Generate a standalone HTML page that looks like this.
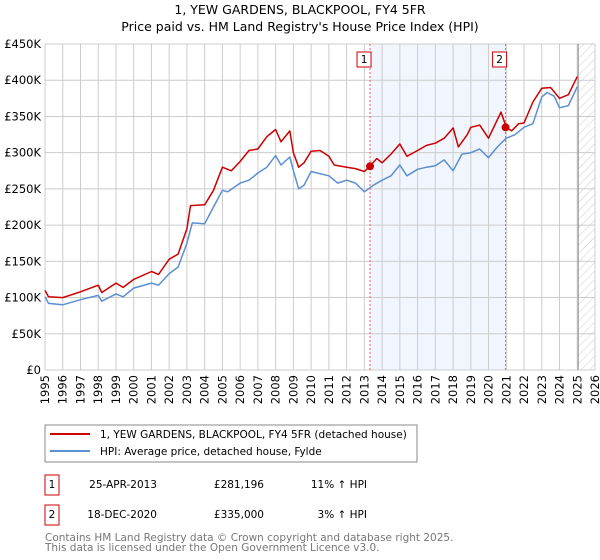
<!DOCTYPE html>
<html><head><meta charset="utf-8"><style>
body{margin:0;background:#fff;font-family:"Liberation Sans","DejaVu Sans",sans-serif}
svg{display:block}
</style></head><body>
<svg width="600" height="560" font-family="DejaVu Sans, Liberation Sans, sans-serif">
<text x="300" y="14" font-size="12.5" text-anchor="middle">1, YEW GARDENS, BLACKPOOL, FY4 5FR</text>
<text x="300" y="31" font-size="12.5" text-anchor="middle">Price paid vs. HM Land Registry's House Price Index (HPI)</text>
<defs><pattern id="hatch" width="6" height="6" patternUnits="userSpaceOnUse" patternTransform="rotate(45)"><line x1="0" y1="0" x2="0" y2="6" stroke="#ccc" stroke-width="1"/></pattern></defs>
<g id="grid"></g>
<g id="plot"></g>
<g id="axes"></g>
<rect x="45" y="425" width="372" height="37" fill="#fff" stroke="#888"/>
<line x1="50" y1="434" x2="90" y2="434" stroke="#cc0000" stroke-width="2"/>
<text x="100" y="438" font-size="10.5">1, YEW GARDENS, BLACKPOOL, FY4 5FR (detached house)</text>
<line x1="50" y1="451" x2="90" y2="451" stroke="#5b8fd0" stroke-width="2"/>
<text x="100" y="455" font-size="10.5">HPI: Average price, detached house, Fylde</text>
<g font-size="10.5">
<rect x="45" y="475" width="14" height="20" fill="#fff" stroke="#cc0000"/>
<text x="52" y="488" text-anchor="middle">1</text>
<text x="157" y="488" text-anchor="end">25-APR-2013</text>
<text x="264" y="488" text-anchor="end">£281,196</text>
<text x="367" y="488" text-anchor="end">11% ↑ HPI</text>
<rect x="45" y="505" width="14" height="20" fill="#fff" stroke="#cc0000"/>
<text x="52" y="518" text-anchor="middle">2</text>
<text x="157" y="518" text-anchor="end">18-DEC-2020</text>
<text x="264" y="518" text-anchor="end">£335,000</text>
<text x="367" y="518" text-anchor="end">3% ↑ HPI</text>
</g>
<text x="45" y="541" font-size="10.5" fill="#777">Contains HM Land Registry data © Crown copyright and database right 2025.</text>
<text x="45" y="551" font-size="10.5" fill="#777">This data is licensed under the Open Government Licence v3.0.</text>
</svg>
<script>
const yTicks=[0,50000,100000,150000,200000,250000,300000,350000,400000,450000];
const yTickLabels=["£0","£50K","£100K","£150K","£200K","£250K","£300K","£350K","£400K","£450K"];
const xYears=[1995,1996,1997,1998,1999,2000,2001,2002,2003,2004,2005,2006,2007,2008,2009,2010,2011,2012,2013,2014,2015,2016,2017,2018,2019,2020,2021,2022,2023,2024,2025,2026];
const hpiT=[1995,1995.2,1996,1997,1998,1998.2,1999,1999.4,2000,2001,2001.4,2002,2002.5,2003,2003.3,2004,2004.5,2005,2005.3,2006,2006.5,2007,2007.5,2008,2008.3,2008.8,2009,2009.3,2009.6,2010,2011,2011.5,2012,2012.5,2013,2013.5,2014,2014.5,2015,2015.4,2016,2016.5,2017,2017.5,2018,2018.5,2019,2019.5,2020,2020.5,2021,2021.5,2022,2022.5,2023,2023.3,2023.7,2024,2024.5,2025];
const hpiV=[101000,92000,90000,97000,103000,95000,105000,101000,113000,120000,117000,133000,142000,175000,203000,202000,225000,248000,246000,258000,262000,272000,280000,296000,283000,294000,275000,250000,255000,274000,268000,258000,262000,258000,246000,255000,262000,268000,283000,268000,277000,280000,282000,290000,275000,298000,300000,305000,293000,308000,320000,325000,335000,340000,377000,383000,378000,362000,365000,391000];
const priceT=[1995,1995.2,1996,1997,1998,1998.2,1999,1999.4,2000,2001,2001.4,2002,2002.5,2003,2003.2,2004,2004.5,2005,2005.5,2006,2006.5,2007,2007.5,2008,2008.3,2008.8,2009,2009.3,2009.6,2010,2010.5,2011,2011.3,2012,2012.5,2013,2013.3,2013.7,2014,2014.5,2015,2015.4,2016,2016.5,2017,2017.5,2018,2018.3,2018.8,2019,2019.5,2020,2020.7,2021,2021.3,2021.7,2022,2022.5,2023,2023.5,2024,2024.5,2025];
const priceV=[110000,101000,100000,108000,117000,107000,120000,114000,125000,136000,132000,153000,160000,195000,227000,228000,248000,280000,275000,288000,303000,305000,322000,332000,315000,330000,300000,280000,286000,302000,303000,295000,283000,280000,278000,274000,281000,292000,286000,298000,312000,295000,303000,310000,313000,320000,334000,308000,325000,335000,338000,320000,356000,335000,330000,340000,341000,370000,389000,390000,375000,380000,405000];
const saleT=[2013.32,2020.96];
const saleV=[281196,335000];
const saleLabels=["1","2"];
const X0=45,X1=595,Y0=370,Y1=44;
const xs=t=>X0+(t-1995)/31*(X1-X0);
const ys=v=>Y0-v/450000*(Y0-Y1);
const NS="http://www.w3.org/2000/svg";
function mk(tag,attrs,parent){const e=document.createElementNS(NS,tag);for(const k in attrs)e.setAttribute(k,attrs[k]);parent.appendChild(e);return e;}
const grid=document.getElementById('grid'),plot=document.getElementById('plot'),axes=document.getElementById('axes');
let sh=mk('rect',{x:xs(saleT[0]),y:Y1,width:xs(saleT[1])-xs(saleT[0]),height:Y0-Y1,fill:'#eef3fc',opacity:0.8},grid);


let ht=mk('rect',{x:xs(2025.05),y:Y1,width:X1-xs(2025.05),height:Y0-Y1,fill:'url(#hatch)'},grid);


yTicks.forEach((v,i)=>{
 let l=mk('line',{x1:X0,x2:X1,y1:ys(v),y2:ys(v),stroke:'#ccc','stroke-width':1},grid);
 
 
 let t=mk('text',{x:X0-4,y:ys(v)+4,'font-size':11.5,'text-anchor':'end'},axes);
 t.textContent=yTickLabels[i];
 
 
});
xYears.forEach(yr=>{
 let l=mk('line',{x1:xs(yr),x2:xs(yr),y1:Y1,y2:Y0,stroke:'#ccc','stroke-width':1},grid);
 
 
 let t=mk('text',{x:0,y:0,'font-size':11.5,'text-anchor':'end',transform:`translate(${xs(yr)+4},${Y0+5}) rotate(-90)`},axes);
 t.textContent=yr;
 
 
});
let vl=mk('line',{x1:xs(2025.05),x2:xs(2025.05),y1:Y1,y2:Y0,stroke:'#888','stroke-width':1},grid);


const pts=(T,V)=>T.map((t,i)=>xs(t).toFixed(1)+','+ys(V[i]).toFixed(1)).join(' ');
let hl=mk('polyline',{points:pts(hpiT,hpiV),fill:'none',stroke:'#5b8fd0','stroke-width':1.5,'stroke-linejoin':'round'},plot);


let pl=mk('polyline',{points:pts(priceT,priceV),fill:'none',stroke:'#cc0000','stroke-width':1.5,'stroke-linejoin':'round'},plot);


saleT.forEach((t,i)=>{
 let d=mk('line',{x1:xs(t),x2:xs(t),y1:Y1,y2:Y0,stroke:'#f06060','stroke-width':1,'stroke-dasharray':'2,2'},plot);
 
 
 let c=mk('circle',{cx:xs(t),cy:ys(saleV[i]),r:4,fill:'#cc0000'},plot);
 
 
 let b=mk('rect',{x:xs(t)-13,y:52,width:14,height:15,fill:'#fff',stroke:'#cc0000'},plot);
 
 
 let tx=mk('text',{x:xs(t)-6,y:63,'font-size':10.5,'text-anchor':'middle'},plot);
 tx.textContent=saleLabels[i];
 
 
});
</script>
</body></html>
